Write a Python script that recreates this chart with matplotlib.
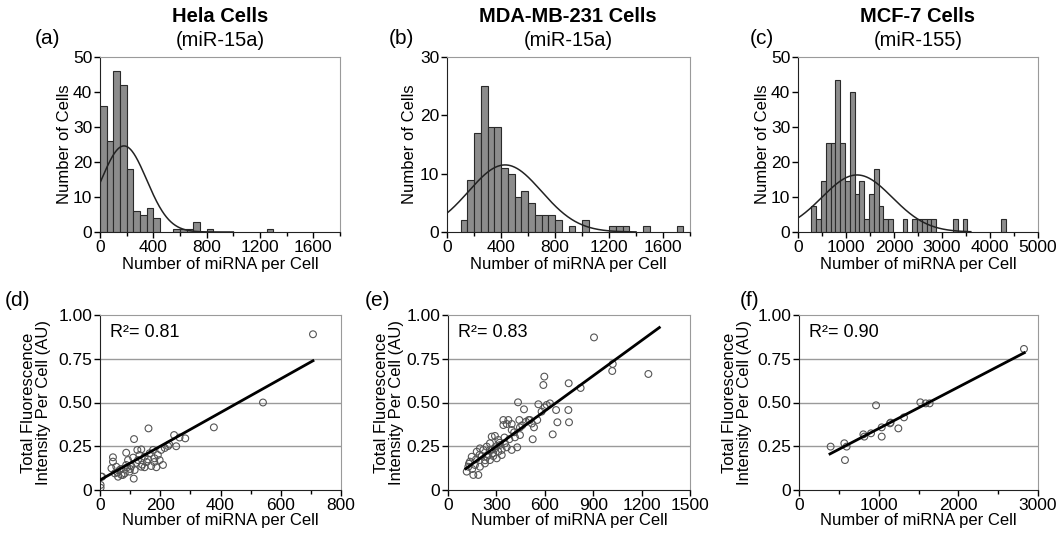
import numpy as np
import matplotlib.pyplot as plt
from matplotlib.ticker import MultipleLocator

plt.rcParams['font.family'] = ['Liberation Sans', 'DejaVu Sans']

# ---- histogram data (bin left edge, height) ----
hela_left = [0, 50, 100, 150, 200, 250, 300, 350, 400, 550, 600, 650, 700, 800, 1250]
hela_count = [36, 26, 46, 42, 18, 6, 5, 7, 4, 1, 1, 1, 3, 1, 1]
hela_fit = (24.6, 180, 170)  # peak, mean, sd of fitted normal

mda_left = [100, 150, 200, 250, 300, 350, 400, 450, 500, 550, 600, 650, 700, 750, 800,
            900, 1000, 1200, 1250, 1300, 1450, 1700]
mda_count = [2, 9, 17, 25, 18, 18, 11, 10, 6, 7, 5, 3, 3, 3, 2, 1, 2, 1, 1, 1, 1, 1]
mda_fit = (11.5, 430, 270)

mcf_left = [280, 380, 480, 580, 680, 780, 880, 980, 1080, 1180, 1280, 1380, 1480, 1580,
            1680, 1780, 1880, 2180, 2380, 2480, 2580, 2680, 2780, 3230, 3430, 4230]
mcf_count = [7.3, 3.6, 14.5, 25.4, 25.4, 43.5, 25.4, 14.5, 39.9, 10.9, 14.5, 3.6, 10.9, 18.1,
             7.3, 3.6, 3.6, 3.6, 3.6, 3.6, 3.6, 3.6, 3.6, 3.6, 3.6, 3.6]
mcf_fit = (16.3, 1230, 734)

# ---- scatter data ----
hela_x = [707, 541, 378, 161, 246, 283, 264, 253, 113, 43, 43, 87, 124, 137, 110, 176, 203,
          226, 148, 126, 159, 181, 198, 209, 192, 54, 65, 76, 60, 98, 87, 104, 115, 112, 137,
          148, 170, 187, 38, 49, 71, 82, 7, 2, 2, 93, 131, 165, 4, 120, 155, 140, 100, 70,
          58, 90, 180, 215, 230]
hela_y = [0.89, 0.50, 0.358, 0.352, 0.314, 0.295, 0.30, 0.25, 0.291, 0.187, 0.162, 0.213,
          0.229, 0.232, 0.185, 0.229, 0.229, 0.251, 0.19, 0.171, 0.175, 0.181, 0.171, 0.143,
          0.20, 0.133, 0.114, 0.086, 0.076, 0.105, 0.143, 0.137, 0.114, 0.065, 0.133, 0.13,
          0.137, 0.13, 0.124, 0.095, 0.086, 0.095, 0.076, 0.029, 0.013, 0.171, 0.20, 0.21,
          0.076, 0.155, 0.16, 0.145, 0.12, 0.12, 0.10, 0.13, 0.16, 0.24, 0.26]
hela_line = (0.057, 0.000964, 0, 707)  # intercept, slope, x start, x end
hela_r2 = 'R\u00b2= 0.81'

mda_x = [905, 1021, 1018, 1242, 597, 591, 748, 822, 599, 632, 612, 670, 746, 678, 750, 649,
         525, 434, 471, 580, 343, 374, 395, 364, 343, 442, 446, 483, 508, 533, 553, 395, 446,
         415, 429, 395, 364, 353, 322, 291, 271, 291, 312, 260, 240, 219, 198, 178, 147, 136,
         167, 198, 229, 260, 281, 302, 333, 116, 157, 188, 126, 209, 240, 260, 312, 333, 174,
         195, 280, 300, 320, 350, 250, 230, 150, 130, 270, 410, 380, 460, 500, 560, 520]
mda_y = [0.872, 0.72, 0.68, 0.663, 0.648, 0.60, 0.61, 0.583, 0.472, 0.495, 0.486, 0.457,
         0.457, 0.387, 0.387, 0.318, 0.29, 0.501, 0.461, 0.448, 0.40, 0.40, 0.377, 0.377,
         0.371, 0.40, 0.358, 0.39, 0.40, 0.358, 0.40, 0.343, 0.314, 0.301, 0.244, 0.229,
         0.244, 0.267, 0.257, 0.238, 0.305, 0.309, 0.286, 0.267, 0.248, 0.229, 0.238, 0.219,
         0.19, 0.162, 0.143, 0.133, 0.152, 0.171, 0.194, 0.181, 0.20, 0.105, 0.086, 0.086,
         0.133, 0.194, 0.19, 0.229, 0.219, 0.229, 0.175, 0.20, 0.21, 0.25, 0.27, 0.30, 0.20,
         0.17, 0.12, 0.15, 0.23, 0.33, 0.29, 0.37, 0.40, 0.49, 0.38]
mda_line = (0.048, 0.000672, 110, 1310)
mda_r2 = 'R\u00b2= 0.83'

mcf_x = [2824, 967, 1523, 1590, 1640, 1318, 1142, 1247, 1038, 1038, 904, 808, 820, 569, 598,
         397, 577, 1150]
mcf_y = [0.806, 0.484, 0.501, 0.495, 0.495, 0.415, 0.381, 0.352, 0.358, 0.305, 0.324, 0.318,
         0.305, 0.267, 0.248, 0.248, 0.171, 0.385]
mcf_line = (0.114, 0.000237, 389, 2828)
mcf_r2 = 'R\u00b2= 0.90'

W, H = 1063, 535
fig = plt.figure(figsize=(W / 100, H / 100), dpi=100)


def px_axes(left, right, top, bottom):
    return fig.add_axes([left / W, 1 - bottom / H, (right - left) / W, (bottom - top) / H])


def style_frame(ax):
    for s in ['top', 'right']:
        ax.spines[s].set_color('#9a9a9a')
    for s in ['left', 'bottom']:
        ax.spines[s].set_color('#222222')
    ax.tick_params(labelsize=12.5, direction='out', length=4, width=1, pad=1.5)
    ax.tick_params(which='minor', direction='out', length=3, width=1)


def histogram(ax, left, count, fit, width, xmax, xmajor, xminor, ymax, curve_end):
    ax.bar(left, count, width=width, align='edge', color='#8c8c8c',
           edgecolor='#2a2a2a', linewidth=0.8)
    peak, mu, sd = fit
    xs = np.linspace(0, curve_end, 300)
    ax.plot(xs, peak * np.exp(-(xs - mu) ** 2 / (2 * sd ** 2)), color='#222222', lw=1.1)
    ax.set_xlim(0, xmax)
    ax.set_ylim(0, ymax)
    ax.xaxis.set_major_locator(MultipleLocator(xmajor))
    ax.xaxis.set_minor_locator(MultipleLocator(xminor))
    ax.yaxis.set_major_locator(MultipleLocator(10))
    style_frame(ax)
    ax.set_xlabel('Number of miRNA per Cell', fontsize=12)
    ax.set_ylabel('Number of Cells', fontsize=12)
    ax.xaxis.set_label_coords(0.5, -0.185)
    ax.xaxis.label.set_va('center')


def scatter(ax, xs, ys, line, r2, xmax, xmajor, xminor):
    b0, b1, x0, x1 = line
    for g in [0.25, 0.5, 0.75]:
        ax.axhline(g, color='#9a9a9a', lw=1, zorder=0)
    ax.scatter(xs, ys, s=24, facecolors='none', edgecolors='#555555', linewidths=0.8, zorder=2)
    ax.plot([x0, x1], [b0 + b1 * x0, b0 + b1 * x1], color='black', lw=2, zorder=3)
    ax.set_xlim(0, xmax)
    ax.set_ylim(0, 1)
    ax.xaxis.set_major_locator(MultipleLocator(xmajor))
    if xminor:
        ax.xaxis.set_minor_locator(MultipleLocator(xminor))
    ax.set_yticks([0, 0.25, 0.5, 0.75, 1.0])
    ax.set_yticklabels(['0', '0.25', '0.50', '0.75', '1.00'])
    style_frame(ax)
    ax.text(0.04, 0.9, r2, transform=ax.transAxes, fontsize=13, va='center', ha='left')
    ax.set_xlabel('Number of miRNA per Cell', fontsize=12)
    ax.set_ylabel('Total Fluorescence\nIntensity Per Cell (AU)', fontsize=12, linespacing=0.95)
    ax.xaxis.set_label_coords(0.5, -0.175)
    ax.xaxis.label.set_va('center')


# top row
ax_a = px_axes(100, 340, 57, 232)
histogram(ax_a, hela_left, hela_count, hela_fit, 50, 1800, 400, 200, 50, 1000)
ax_a.yaxis.set_label_coords(-0.146, 0.5)
ax_a.yaxis.label.set_va('center')

ax_b = px_axes(447, 690, 57, 232)
histogram(ax_b, mda_left, mda_count, mda_fit, 50, 1800, 400, 200, 30, 1400)
ax_b.yaxis.set_label_coords(-0.155, 0.5)
ax_b.yaxis.label.set_va('center')

ax_c = px_axes(798, 1038, 57, 232)
histogram(ax_c, mcf_left, mcf_count, mcf_fit, 100, 5000, 1000, 500, 50, 3600)
ax_c.yaxis.set_label_coords(-0.146, 0.5)
ax_c.yaxis.label.set_va('center')

# bottom row
ax_d = px_axes(100, 341, 315, 490)
scatter(ax_d, hela_x, hela_y, hela_line, hela_r2, 800, 200, 100)
ax_d.yaxis.set_label_coords(-0.266, 0.5)
ax_d.yaxis.label.set_va('center')

ax_e = px_axes(448, 690, 315, 490)
scatter(ax_e, mda_x, mda_y, mda_line, mda_r2, 1500, 300, None)
ax_e.yaxis.set_label_coords(-0.244, 0.5)
ax_e.yaxis.label.set_va('center')

ax_f = px_axes(799, 1038, 315, 490)
scatter(ax_f, mcf_x, mcf_y, mcf_line, mcf_r2, 3000, 1000, 500)
ax_f.yaxis.set_label_coords(-0.26, 0.5)
ax_f.yaxis.label.set_va('center')

# titles
titles = [('Hela Cells', '(miR-15a)', 220), ('MDA-MB-231 Cells', '(miR-15a)', 568),
          ('MCF-7 Cells', '(miR-155)', 918)]
for name, mir, cx in titles:
    fig.text(cx / W, 1 - 17 / H, name, fontsize=14.5, fontweight='bold', ha='center', va='center')
    fig.text(cx / W, 1 - 40 / H, mir, fontsize=14.5, ha='center', va='center')

panels = [('(a)', 35, 39), ('(b)', 389, 39), ('(c)', 750, 39),
          ('(d)', 5, 300), ('(e)', 365, 300), ('(f)', 740, 300)]
for lab, x, y in panels:
    fig.text(x / W, 1 - y / H, lab, fontsize=15, ha='left', va='center')

fig.savefig('out.png', dpi=100)
